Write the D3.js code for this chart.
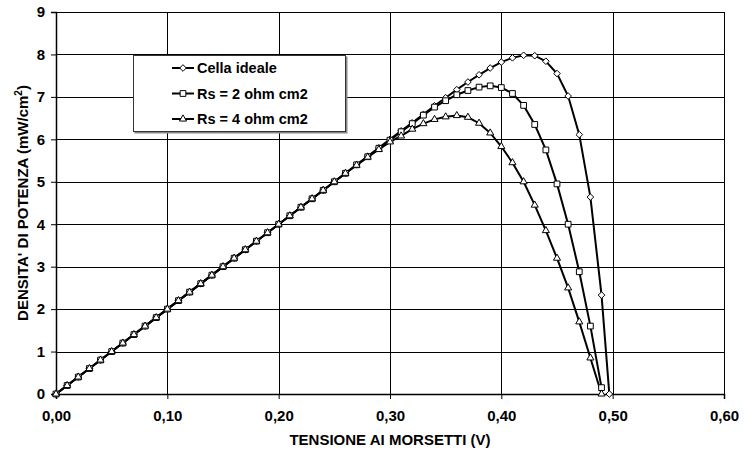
<!DOCTYPE html>
<html>
<head>
<meta charset="utf-8">
<script src="https://cdn.jsdelivr.net/npm/d3@7/dist/d3.min.js"></script>
<style>
  body { margin: 0; background: #fff; }
  text { font-family: "Liberation Sans", Arial, sans-serif; font-weight: bold; }
</style>
</head>
<body>
<div id="chart"></div>
<script>
// tensione (V), un punto ogni 0,01 V
var volts = [0.00, 0.01, 0.02, 0.03, 0.04, 0.05, 0.06, 0.07, 0.08, 0.09,
  0.10, 0.11, 0.12, 0.13, 0.14, 0.15, 0.16, 0.17, 0.18, 0.19,
  0.20, 0.21, 0.22, 0.23, 0.24, 0.25, 0.26, 0.27, 0.28, 0.29,
  0.30, 0.31, 0.32, 0.33, 0.34, 0.35, 0.36, 0.37, 0.38, 0.39,
  0.40, 0.41, 0.42, 0.43, 0.44, 0.45, 0.46, 0.47, 0.48, 0.49]
var voltsIdeal = volts.concat([0.497])

// densita' di potenza (mW/cm2)
var pIdeal = [0, 0.2, 0.4, 0.6, 0.8, 1.0, 1.2, 1.4, 1.6, 1.8,
  2.0, 2.2, 2.4, 2.6, 2.8, 3.0, 3.2, 3.4, 3.6, 3.8,
  4.0, 4.2, 4.4, 4.6, 4.8, 5.0, 5.2, 5.4, 5.6, 5.8,
  6.0, 6.2, 6.39, 6.59, 6.79, 6.98, 7.17, 7.35, 7.52, 7.68,
  7.82, 7.92, 7.98, 7.97, 7.84, 7.55, 7.02, 6.11, 4.64, 2.33, 0]
var pRs2 = [0, 0.2, 0.4, 0.6, 0.8, 1.0, 1.2, 1.4, 1.6, 1.8,
  2.0, 2.2, 2.4, 2.6, 2.8, 3.0, 3.2, 3.4, 3.6, 3.8,
  4.0, 4.2, 4.4, 4.6, 4.8, 5.0, 5.2, 5.4, 5.59, 5.79,
  5.98, 6.18, 6.37, 6.57, 6.76, 6.91, 7.05, 7.15, 7.23, 7.26,
  7.22, 7.08, 6.8, 6.35, 5.75, 4.95, 4.0, 2.88, 1.6, 0.15]
var pRs4 = [0, 0.2, 0.4, 0.6, 0.8, 1.0, 1.2, 1.4, 1.6, 1.8,
  2.0, 2.2, 2.4, 2.6, 2.8, 3.0, 3.2, 3.4, 3.6, 3.8,
  4.0, 4.2, 4.4, 4.6, 4.8, 5.0, 5.2, 5.39, 5.58, 5.76,
  5.94, 6.08, 6.24, 6.37, 6.47, 6.53, 6.56, 6.52, 6.38, 6.15,
  5.83, 5.45, 5.0, 4.45, 3.85, 3.2, 2.5, 1.7, 0.85, 0.0]

var seriesNames = ["Cella ideale", "Rs = 2 ohm cm2", "Rs = 4 ohm cm2"]
var xTicks = [0, 0.1, 0.2, 0.3, 0.4, 0.5, 0.6]
var yTicks = [0, 1, 2, 3, 4, 5, 6, 7, 8, 9]

var W = 749, H = 455
var margin = { top: 12, right: 25, bottom: 61, left: 56 },
    width = W - margin.left - margin.right,
    height = H - margin.top - margin.bottom

var svg = d3.select("#chart").append("svg")
    .attr("width", W)
    .attr("height", H)

var g = svg.append("g")
    .attr("transform", "translate(" + margin.left + "," + margin.top + ")")

var x = d3.scaleLinear().domain([0, 0.6]).range([0, width])
var y = d3.scaleLinear().domain([0, 9]).range([height, 0])

var fmt = v => d3.format(".2f")(v).replace(".", ",")

// griglia
g.append("g").selectAll("line").data(yTicks).enter().append("line")
    .attr("x1", 0).attr("x2", width)
    .attr("y1", d => Math.round(y(d)) + 0.5).attr("y2", d => Math.round(y(d)) + 0.5)
    .attr("stroke", "#000").attr("stroke-width", 1)
g.append("g").selectAll("line").data(xTicks).enter().append("line")
    .attr("y1", 0).attr("y2", height)
    .attr("x1", d => Math.round(x(d)) + 0.5).attr("x2", d => Math.round(x(d)) + 0.5)
    .attr("stroke", "#000").attr("stroke-width", 1)

// assi
var xAxis = g.append("g")
    .attr("transform", "translate(0," + height + ")")
    .call(d3.axisBottom(x).tickValues(xTicks).tickFormat(fmt).tickSize(5).tickPadding(11))
var yAxis = g.append("g")
    .call(d3.axisLeft(y).tickValues(yTicks).tickFormat(d3.format("d")).tickSize(5).tickPadding(6))
;[xAxis, yAxis].forEach(a => {
    a.select(".domain").attr("stroke", "#000").attr("stroke-width", 1.5)
    a.selectAll(".tick line").attr("stroke", "#000")
    a.selectAll("text").attr("font-size", 15).attr("fill", "#000")
        .attr("font-family", "Liberation Sans, Arial, sans-serif").attr("font-weight", "bold")
})

// curve
var line = d3.line().x(d => x(d[0])).y(d => y(d[1]))
var data = [
    d3.zip(voltsIdeal, pIdeal),
    d3.zip(volts, pRs2),
    d3.zip(volts, pRs4)
]
var symbols = [
    d3.symbol().type(d3.symbolDiamond2).size(28),
    d3.symbol().type(d3.symbolSquare2).size(42),
    d3.symbol().type(d3.symbolTriangle2).size(36)
]

data.forEach((s, i) => {
    g.append("path")
        .datum(s)
        .attr("d", line)
        .attr("fill", "none")
        .attr("stroke", "#000")
        .attr("stroke-width", 2)
})
data.forEach((s, i) => {
    g.append("g").selectAll("path").data(s).enter().append("path")
        .attr("d", symbols[i])
        .attr("transform", d => "translate(" + x(d[0]) + "," + y(d[1]) + ")")
        .attr("fill", "#fff")
        .attr("stroke", "#000")
        .attr("stroke-width", 1)
})

// legenda
var leg = svg.append("g").attr("transform", "translate(133,55)")
leg.append("rect")
    .attr("x", 1.5).attr("y", 1.5).attr("width", 213).attr("height", 77)
    .attr("fill", "#888")
leg.append("rect")
    .attr("x", 0.5).attr("y", 0.5).attr("width", 212).attr("height", 76)
    .attr("fill", "#fff").attr("stroke", "#333").attr("stroke-width", 1)
seriesNames.forEach((name, i) => {
    var ly = 13 + i * 25.5
    leg.append("line")
        .attr("x1", 39).attr("x2", 61).attr("y1", ly).attr("y2", ly)
        .attr("stroke", "#000").attr("stroke-width", 2)
    leg.append("path")
        .attr("d", symbols[i])
        .attr("transform", "translate(50," + ly + ")")
        .attr("fill", "#fff").attr("stroke", "#000")
    leg.append("text")
        .attr("x", 64).attr("y", ly + 5)
        .attr("font-size", 14.5)
        .text(name)
})

// titoli assi
svg.append("text")
    .attr("x", margin.left + width / 2).attr("y", 445)
    .attr("text-anchor", "middle").attr("font-size", 15)
    .text("TENSIONE AI MORSETTI (V)")
var yt = svg.append("text")
    .attr("transform", "translate(28," + (margin.top + height / 2) + ") rotate(-90)")
    .attr("text-anchor", "middle").attr("font-size", 15)
yt.append("tspan").text("DENSITA' DI POTENZA (mW/cm")
yt.append("tspan").attr("font-size", 10).attr("dy", -6).text("2")
yt.append("tspan").attr("dy", 6).text(")")
</script>
</body>
</html>
